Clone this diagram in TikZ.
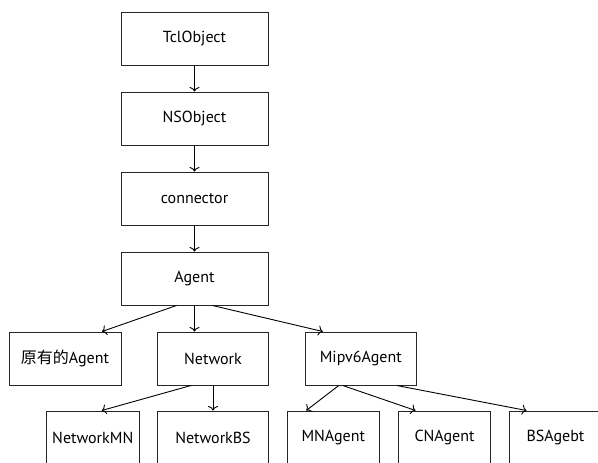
\documentclass[tikz,border=0pt]{standalone}
\usepackage{fontspec}
\setmainfont{PT Sans}
\newfontfamily\cjk{Noto Sans CJK SC}
\usetikzlibrary{arrows.meta}
\tikzset{
	block/.style={rectangle, draw=black!85, line width=1pt, fill=white, minimum width=147pt, minimum height=53pt, inner sep=0pt, font=\fontsize{16}{19}\selectfont},
	wide/.style={block, minimum width=111pt},
	narrow/.style={block, minimum width=92.5pt},
	link/.style={draw, line width=0.9pt, -{To[length=4.5pt,width=10pt]}}
}

\begin{document}
\begin{tikzpicture}[x=1pt, y=-1pt]
	\useasboundingbox (0,0) rectangle (598,463);
	\clip (0,0) rectangle (598,463);
	% Class chain
	\node[block] (tcl) at (194.5,38.5) {TclObject};
	\node[block] (nsobj) at (194.5,118.5) {NSObject};
	\node[block] (conn) at (194.5,198.5) {connector};
	\node[block] (agent) at (194.5,278.5) {Agent};
	
	% Second level
	\node[block, minimum width=112pt] (orig) at (65,358.5) {{\cjk 原有的}Agent};
	\node[wide] (network) at (213,358.5) {Network};
	\node[wide] (mipv6) at (360.75,358.5) {Mipv6Agent};
	
	% Third level
	\node[narrow] (netmn) at (92.75,437.5) {NetworkMN};
	\node[wide] (netbs) at (213,437.5) {NetworkBS};
	\node[narrow] (mnagent) at (333.25,437.5) {MNAgent};
	\node[narrow] (cnagent) at (444.5,437.5) {CNAgent};
	\node[narrow] (bsagent) at (555.5,437.5) {BSAgebt};
	
	% Connections
	\foreach \a/\b in {tcl/nsobj, nsobj/conn, conn/agent}
	\draw[link] (\a) -- (\b);
	\draw[link] ([xshift=-18pt]agent.south) -- ([xshift=37pt]orig.north);
	\draw[link] (agent.south) -- (agent.south |- network.north);
	\draw[link] ([xshift=18pt]agent.south) -- ([xshift=-38pt]mipv6.north);
	\draw[link] ([xshift=-22pt]network.south) -- ([xshift=9pt]netmn.north);
	\draw[link] (network) -- (netbs);
	\draw[link] ([xshift=-22pt]mipv6.south) -- ([xshift=-27pt]mnagent.north);
	\draw[link] ([xshift=-18pt]mipv6.south) -- ([xshift=-29pt]cnagent.north);
	\draw[link] ([xshift=36pt]mipv6.south) -- ([xshift=-29pt]bsagent.north);
\end{tikzpicture}
\end{document}
